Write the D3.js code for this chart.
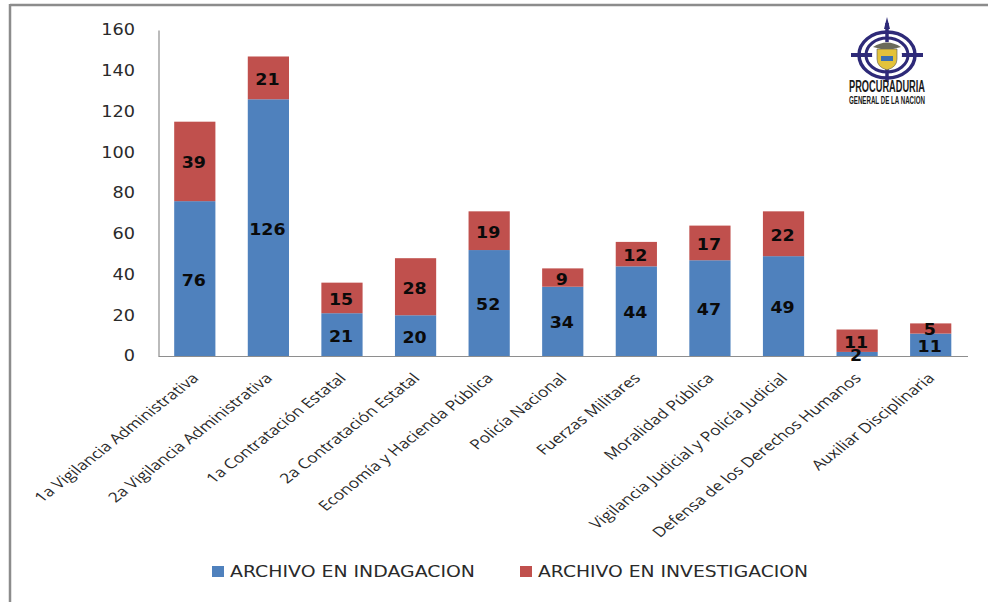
<!DOCTYPE html>
<html><head><meta charset="utf-8">
<script src="https://cdnjs.cloudflare.com/ajax/libs/d3/7.8.5/d3.min.js"></script>
<style>html,body{margin:0;padding:0;background:#fff}svg{display:block}</style>
</head><body><svg id="c" width="988" height="602"></svg>
<script>
const categories=["1a Vigilancia Administrativa","2a Vigilancia Administrativa","1a Contratación Estatal","2a Contratación Estatal","Economía y Hacienda Pública","Policía Nacional","Fuerzas Militares","Moralidad Pública","Vigilancia Judicial y Policía Judicial","Defensa de los Derechos Humanos","Auxiliar Disciplinaria"];
const indagacion=[76,126,21,20,52,34,44,47,49,2,11];
const investigacion=[39,21,15,28,19,9,12,17,22,11,5];
const seriesNames=["ARCHIVO EN INDAGACION","ARCHIVO EN INVESTIGACION"];
const colors=["#4f81bd","#c0504d"];
const yTicks=[0,20,40,60,80,100,120,140,160];

const svg=d3.select("#c");
const font="'Open Sans',sans-serif";
const wide="'DejaVu Sans',sans-serif";
// frame
svg.append("line").attr("x1",10).attr("x2",988).attr("y1",5).attr("y2",5).attr("stroke","#8c8c8c").attr("stroke-width",2.5);
svg.append("line").attr("x1",10).attr("x2",10).attr("y1",4).attr("y2",602).attr("stroke","#8c8c8c").attr("stroke-width",2.5);

const x=d3.scaleBand().domain(categories).range([158,967.5]).paddingInner(0.44).paddingOuter(0.22);
const y=d3.scaleLinear().domain([0,160]).range([356,30]);

// axes
const yAxis=svg.append("g").attr("transform","translate(158.5,0)").call(d3.axisLeft(y).tickValues(yTicks).tickSize(0).tickPadding(23));
yAxis.select(".domain").attr("stroke","#8e8e8e").attr("stroke-width",1.2);
yAxis.selectAll("text").attr("font-family",wide).attr("font-size",15.5).attr("fill","#2a2a2a")
  .attr("text-anchor","end").each(function(){
    d3.select(this).attr("transform","translate(-23.5,0) scale(1.14,1) translate(23,0)");
  });

const xAxis=svg.append("g").attr("transform","translate(0,356)").call(d3.axisBottom(x).tickSize(0).tickPadding(0));
xAxis.select(".domain").attr("stroke","#8e8e8e").attr("stroke-width",1.2);
xAxis.selectAll("text").attr("font-family",font).attr("font-size",13.8).attr("fill","#2a2a2a")
  .attr("text-anchor","end").attr("dy",0)
  .attr("transform",`translate(${x.bandwidth()*0.12},23) scale(1.27,1) rotate(-45)`);

// bars
const data=categories.map((c,i)=>({c,a:indagacion[i],b:investigacion[i]}));
svg.append("g").selectAll("rect").data(data).join("rect").attr("x",d=>x(d.c)).attr("width",x.bandwidth())
  .attr("y",d=>y(d.a)).attr("height",d=>y(0)-y(d.a)).attr("fill",colors[0]);
svg.append("g").selectAll("rect").data(data).join("rect").attr("x",d=>x(d.c)).attr("width",x.bandwidth())
  .attr("y",d=>y(d.a+d.b)).attr("height",d=>y(d.a)-y(d.a+d.b)).attr("fill",colors[1]);

// value labels
const lab=svg.append("g").attr("font-family",wide).attr("font-weight","bold").attr("font-size",15).attr("fill","#0a0a0a").attr("text-anchor","middle");
const placeLabel=(sel,val,pos)=>sel.attr("transform",d=>`translate(${x(d.c)+x.bandwidth()/2-1},${y(pos(d))+7}) scale(1.16,1)`).text(val);
placeLabel(lab.selectAll(".a").data(data).join("text"),d=>d.a,d=>d.a/2);
placeLabel(lab.selectAll(".b").data(data).join("text"),d=>d.b,d=>d.a+d.b/2);

// legend
const lg=svg.append("g");
[[212,230,245],[520,538,270]].forEach(([sx,tx,len],i)=>{
  lg.append("rect").attr("x",sx).attr("y",566).attr("width",12).attr("height",11).attr("fill",colors[i]);
  lg.append("text").attr("x",tx).attr("y",577).attr("font-family",wide).attr("font-size",15.3).attr("textLength",len).attr("lengthAdjust","spacingAndGlyphs").attr("fill","#2a2a2a").text(seriesNames[i]);
});

// logo
const lgo=svg.append("g").attr("transform","translate(887,55)");
const navy="#2e2a78";
[[28,23,3.5],[21,17,3]].forEach(([rx,ry,w])=>lgo.append("ellipse").attr("rx",rx).attr("ry",ry).attr("fill","none").attr("stroke",navy).attr("stroke-width",w));
lgo.append("line").attr("x1",0).attr("x2",0).attr("y1",-32).attr("y2",27).attr("stroke",navy).attr("stroke-width",3.5);
lgo.append("line").attr("x1",-36).attr("x2",36).attr("y1",0).attr("y2",0).attr("stroke",navy).attr("stroke-width",4);
lgo.append("path").attr("d","M0,-38 L3,-26 L-3,-26 Z").attr("fill",navy);
lgo.append("ellipse").attr("rx",15).attr("ry",13).attr("fill","#fff");
lgo.append("path").attr("d","M-10,-6 H10 V4 Q10,12 0,15 Q-10,12 -10,4 Z").attr("fill","#e3c23a").attr("stroke","#555").attr("stroke-width",.6);
lgo.append("rect").attr("x",-6).attr("y",1).attr("width",12).attr("height",5).attr("fill","#3b6fb0");
lgo.append("path").attr("d","M-14,-8 Q0,-17 14,-8 L6,-6 H-6 Z").attr("fill","#6a6a5a");
const nar="'Liberation Sans Narrow','Liberation Sans',sans-serif";
svg.append("text").attr("x",887).attr("y",92).attr("text-anchor","middle").attr("font-family",nar).attr("font-weight","bold").attr("font-size",16).attr("textLength",76).attr("lengthAdjust","spacingAndGlyphs").attr("fill","#1a1a1a").text("PROCURADURIA");
svg.append("text").attr("x",887).attr("y",104).attr("text-anchor","middle").attr("font-family",nar).attr("font-weight","bold").attr("font-size",10).attr("textLength",76).attr("lengthAdjust","spacingAndGlyphs").attr("fill","#1a1a1a").text("GENERAL DE LA NACION");
</script></body></html>
